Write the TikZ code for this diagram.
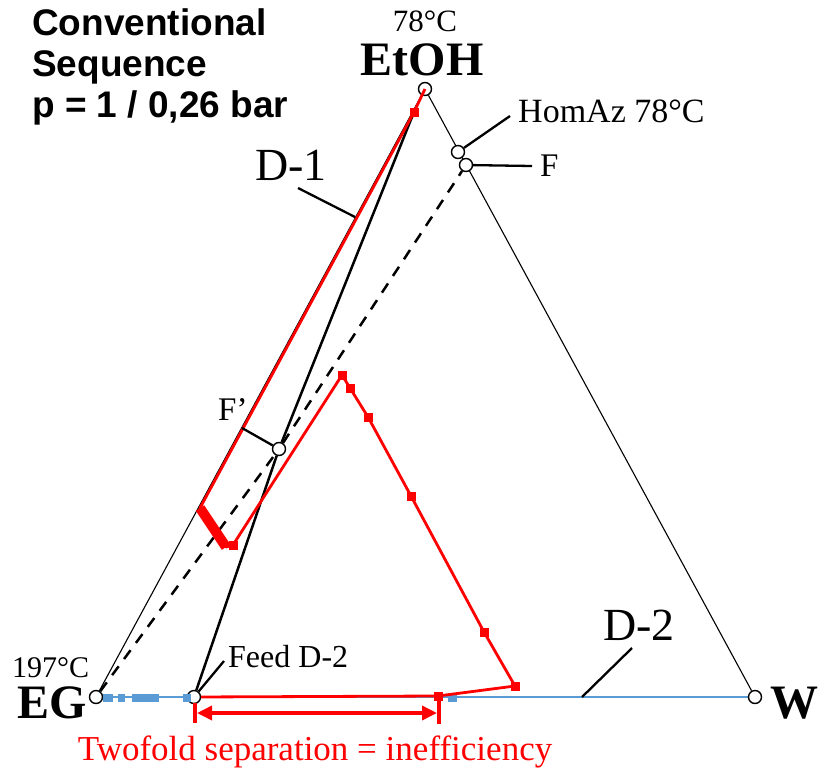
\documentclass[tikz,border=0pt]{standalone}
\usepackage{fontspec}
\setmainfont{Liberation Serif}
\newfontfamily\headfont{Liberation Sans}
\usetikzlibrary{arrows.meta}

\definecolor{profred}{RGB}{255,0,0}
\definecolor{profblue}{RGB}{91,155,213}

\pgfdeclarelayer{bg}
\pgfsetlayers{bg,main}

\newcommand{\fsz}[1]{\fontsize{#1}{#1}\selectfont}

\tikzset{
  vert/.style={circle, draw, fill=white, line width=1.4pt, minimum size=13pt, inner sep=0pt},
  lead/.style={line width=2.3pt},
  sq/.style={fill=profred, minimum size=9pt, inner sep=0pt},
  bsq/.style={fill=profblue, minimum height=8pt, inner sep=0pt},
  lbl/.style={inner sep=0pt, anchor=base west},
}

\begin{document}
\begin{tikzpicture}[x=1pt, y=-1pt]
    \useasboundingbox (0,0) rectangle (821,771);

    % Draw nodes
    \node[vert] (etoh) at (425,89) {};
    \node[vert] (eg) at (96,697) {};
    \node[vert] (w) at (755,697) {};
    \node[vert] (homaz) at (458,152) {};
    \node[vert] (f) at (466,165) {};
    \node[vert] (fp) at (279,449) {};
    \node[vert] (feed) at (194,697) {};

    % Profile points
    \coordinate (p2) at (414,112);
    \coordinate (p3) at (200,508);
    \coordinate (p4) at (226,547);
    \coordinate (p5) at (233,545);
    \coordinate (p6) at (342,375);
    \coordinate (p7) at (350,388);
    \coordinate (p8) at (368,417);
    \coordinate (p9) at (411,496);
    \coordinate (p10) at (484,632);
    \coordinate (p11) at (515,686);
    \coordinate (p12) at (438,696);

    % Draw connections
    \begin{pgfonlayer}{bg}
    \draw[line width=1.1pt] (eg) -- (etoh) -- (w);
    \draw[profblue, line width=2.2pt] (eg) -- (w);
    \draw[line width=2.5pt] (p2) -- (fp) -- (feed);
    \draw[line width=2.5pt, dash pattern=on 11pt off 9pt] (eg) -- (fp) -- (f);
    \end{pgfonlayer}

    % D-2 profile
    \node[bsq, minimum width=10pt] (b1) at (108,698) {};
    \node[bsq, minimum width=7pt] (b2) at (121,698) {};
    \node[bsq, minimum width=27pt] (b3) at (145,698) {};
    \node[bsq, minimum width=8pt] (b4) at (187,698) {};
    \node[bsq, minimum width=9pt] (b5) at (452,698) {};

    % D-1 profile
    \draw[profred, line width=2.8pt, line join=round] (etoh.center) -- (p2) -- (p3) -- (p4) -- (p5)
        -- (p6) -- (p7) -- (p8) -- (p9) -- (p10) -- (p11) -- (p12) -- (feed);
    \draw[profred, line width=10pt] (p3) -- (p4);
    \foreach \n in {p2,p5,p6,p7,p8,p9,p10,p11,p12}
        \node[sq] (s\n) at (\n) {};

    % Leaders
    \coordinate (homazl) at (510,116);
    \coordinate (fl) at (532,166);
    \coordinate (fpl) at (242,428);
    \coordinate (d1a) at (298,188);
    \coordinate (d1b) at (355,217);
    \coordinate (feedl) at (224,661);
    \coordinate (d2a) at (582,697);
    \coordinate (d2b) at (632,648);
    \draw[lead] (homaz) -- (homazl);
    \draw[lead] (f) -- (fl);
    \draw[lead] (fp) -- (fpl);
    \draw[lead] (d1a) -- (d1b);
    \draw[lead] (feed) -- (feedl);
    \draw[lead] (d2a) -- (d2b);

    % Twofold bracket
    \coordinate (br1) at (197,713);
    \coordinate (br2) at (437,713);
    \draw[profred, line width=3.5pt] (195,703) coordinate (bl1) -- (195,723) coordinate (bl2);
    \draw[profred, line width=3.5pt] (439,700) coordinate (bl3) -- (439,724) coordinate (bl4);
    \draw[profred, line width=3.5pt, {Triangle[length=15pt,width=14pt]}-{Triangle[length=15pt,width=14pt]}] (br1) -- (br2);

    % Labels
    \node[lbl, anchor=north west, align=left, font=\headfont\bfseries\fontsize{37}{41}\selectfont] (title) at (32,8)
        {Conventional\\Sequence\\p = 1 / 0,26 bar};
    \node[lbl, anchor=base, font=\fsz{31}] (tetoh) at (425,31) {78°C};
    \node[lbl, anchor=base, font=\bfseries\fsz{48}] (letoh) at (422,75) {EtOH};
    \node[lbl, font=\fsz{30}] (teg) at (12,677) {197°C};
    \node[lbl, font=\bfseries\fsz{48}] (leg) at (17,718) {EG};
    \node[lbl, anchor=base east, font=\bfseries\fsz{48}] (lw) at (819,718) {W};
    \node[lbl, font=\fsz{34}] (lhomaz) at (518,122) {HomAz 78°C};
    \node[lbl, font=\fsz{33}] (lf) at (540,176) {F};
    \node[lbl, font=\fsz{33}] (lfp) at (218,420) {F'};
    \node[lbl, font=\fsz{46}] (ld1) at (255,180) {D-1};
    \node[lbl, font=\fsz{46}] (ld2) at (603,640) {D-2};
    \node[lbl, font=\fsz{32}] (lfeed) at (228,667) {Feed D-2};
    \node[lbl, anchor=base, font=\fsz{35}, text=profred] (ltwo) at (315,760) {Twofold separation = inefficiency};
\end{tikzpicture}
\end{document}
